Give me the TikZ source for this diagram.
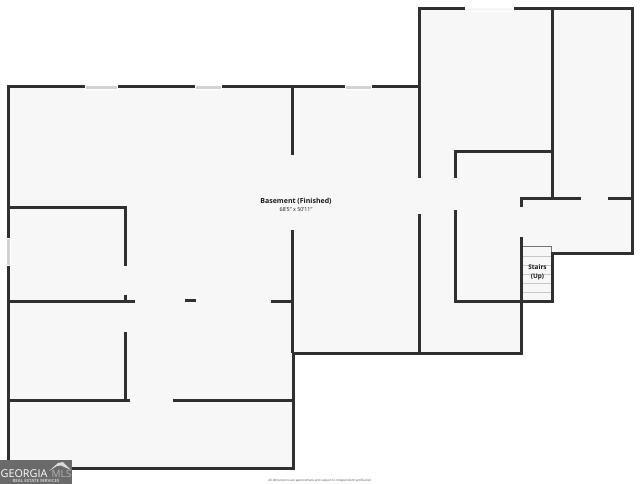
\documentclass[tikz,border=0pt]{standalone}
\usepackage{fontspec}
\setmainfont{Open Sans}
\definecolor{wallc}{HTML}{303030}
\definecolor{floorc}{HTML}{F7F7F7}
\definecolor{winc}{HTML}{D2D2D2}
\definecolor{logoc}{HTML}{6A6A6A}
\tikzset{
  wall/.style={draw=wallc,line width=3pt,line cap=butt,line join=miter},
  iwall/.style={draw=wallc,line width=3pt,line cap=butt,line join=miter},
  win/.style={draw=white,fill=winc,line width=0.7pt},
  tread/.style={draw=black!22,line width=0.6pt},
  lbl/.style={inner sep=0pt,text=black!90,align=center}
}
\begin{document}
\begin{tikzpicture}[x=1pt,y=-1pt]
\useasboundingbox (0,0) rectangle (640,484);
\fill[white] (0,0) rectangle (640,484);
% floor
\fill[floorc] (8,87) -- (419,87) -- (419,9) -- (632,9) -- (632,253) -- (552,253) -- (552,301) -- (521,301) -- (521,353) -- (293,353) -- (293,468) -- (8,468) -- cycle;
% stairs
\foreach \y in {256,265,274,283,292} \draw[tread] (522,\y) -- (552,\y);
\draw[draw=black!55,line width=0.7pt] (522,246.5) -- (551.5,246.5) -- (551.5,253);
% outline
\path[wall] (8,87) -- (419,87) -- (419,9) -- (632,9) -- (632,253) -- (552,253) -- (552,301) -- (521,301) -- (521,353) -- (293,353) -- (293,468) -- (8,468) -- cycle;
% inner walls
\draw[iwall] (292.5,87) -- (292.5,155);
\draw[iwall] (292.5,230) -- (292.5,353);
\draw[iwall] (419.5,87) -- (419.5,178);
\draw[iwall] (419.5,214) -- (419.5,353);
\draw[iwall] (552,9) -- (552,198);
\draw[iwall] (455,178) -- (455,152) -- (552,152);
\draw[iwall] (455,210) -- (455,301) -- (552,301);
\draw[iwall] (521,207) -- (521,198) -- (581,198);
\draw[iwall] (608,198) -- (632,198);
\draw[iwall] (521,237) -- (521,353);
\draw[iwall] (8,207) -- (125,207) -- (125,266);
\draw[iwall] (8,301) -- (134.5,301);
\draw[iwall] (125,295) -- (125,301);
\draw[iwall] (184.5,300) -- (195.5,300);
\draw[iwall] (271,301) -- (293,301);
\draw[iwall] (125,332) -- (125,400);
\draw[iwall] (8,400) -- (130,400);
\draw[iwall] (173,400) -- (293,400);
% windows
\draw[win] (85,85) rectangle (117,89);
\draw[win] (195,85) rectangle (221,89);
\draw[win] (345,85) rectangle (371,89);
\draw[draw=white,fill=floorc,line width=0.5pt] (465,7) rectangle (513,11);
\draw[win] (6,238) rectangle (10,265);
% labels
\node[lbl,font=\bfseries\fontsize{7}{8}\selectfont] (title) at (296,201.5) {Basement (Finished)};
\node[lbl,font=\fontsize{5.4}{6}\selectfont] (dims) at (296,210) {68'5" x 50'11"};
\node[lbl,font=\bfseries\fontsize{6.4}{9}\selectfont] (stairs) at (537.5,272) {Stairs\\(Up)};
% logo
\fill[logoc] (0,460) rectangle (72,484);
\fill[white!85!black] (49,471) -- (58,463) -- (63,462) -- (71,470) -- (61,465.5) -- (57,466) -- cycle;
\node[lbl,anchor=west,text=white,font=\fontsize{10.8}{12}\selectfont] (geo) at (0.5,473.5) {GEORGIA};
\node[lbl,anchor=east,text=white!70!black,font=\fontsize{10}{12}\selectfont] (mls) at (71.5,473.5) {MLS};
\node[lbl,text=white!80!black,font=\bfseries\fontsize{4.3}{5}\selectfont] (res) at (36,481) {REAL ESTATE SERVICES};
\node[lbl,text=black!70,font=\fontsize{3.1}{4}\selectfont] (foot) at (320,480.5) {All dimensions are approximate and subject to independent verification};
\end{tikzpicture}
\end{document}
